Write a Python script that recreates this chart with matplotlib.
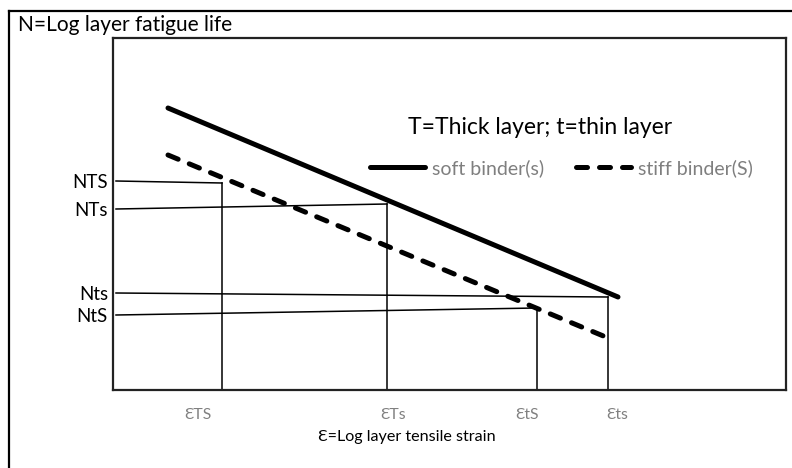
import matplotlib.pyplot as plt
from matplotlib.lines import Line2D

plt.rcParams['font.family'] = ['Lato', 'DejaVu Sans']

# schematic values (arbitrary log units)
binders = ['soft binder(s)', 'stiff binder(S)']
line_x = [[55, 505], [55, 500]]          # strain range of each fatigue line
line_n = [[282, 93], [235, 50]]          # log N at the two ends

cases = ['TS', 'Ts', 'ts', 'tS']
strain = [109, 274, 495, 424]            # log strain of each case
n_axis = [209, 181, 97, 75]              # N where the reading line meets the y axis
n_point = [207, 186, 93, 82]             # N at the fatigue line
n_labels = ['NTS', 'NTs', 'Nts', 'NtS']
eps_labels = ['ƐTS', 'ƐTs', 'Ɛts', 'ƐtS']
eps_label_x = [85, 280, 504, 414]

fig = plt.figure(figsize=(7.92, 4.68), dpi=100)

# outer frame and title
fig.add_artist(Line2D([9/792, 9/792], [0, 1 - 11/468], color='black', lw=1.6))
fig.add_artist(Line2D([9/792, 1], [1 - 11/468, 1 - 11/468], color='black', lw=1.6))
fig.text(18/792, 1 - 25/468, 'N=Log layer fatigue life', fontsize=15, va='center')

ax = fig.add_axes([113/792, 78/468, 673/792, 352/468])
ax.set_xlim(0, 673)
ax.set_ylim(0, 352)
ax.set_xticks([])
ax.set_yticks([])
for sp in ax.spines.values():
    sp.set_linewidth(1.6)
    sp.set_color('#222222')

# fatigue lines
ax.plot(line_x[0], line_n[0], color='black', lw=3.6, solid_capstyle='round', label=binders[0])
ax.plot(line_x[1], line_n[1], color='black', lw=3.6, dashes=(2.2, 2.4),
        dash_capstyle='round', label=binders[1])

# reading lines
for i in range(len(cases)):
    ax.plot([3, strain[i]], [n_axis[i], n_point[i]], color='black', lw=1.1)
    ax.plot([strain[i], strain[i]], [n_point[i], 0], color='black', lw=1.1)
    ax.text(-5, n_axis[i] - 1, n_labels[i], ha='right', va='center', fontsize=13.5)
    ax.text(eps_label_x[i], -25, eps_labels[i], ha='center', va='center',
            fontsize=11.3, color='#808080')

ax.text(294, -47, 'Ɛ=Log layer tensile strain', ha='center', va='center', fontsize=11.6)
ax.text(427, 263, 'T=Thick layer; t=thin layer', ha='center', va='center', fontsize=16.5)

ax.legend(loc='center left', bbox_to_anchor=(257/673, 222/352), ncol=2, frameon=False,
          borderpad=0, borderaxespad=0, handlelength=2.83, handletextpad=0.36,
          columnspacing=1.65, fontsize=14, labelcolor='#7f7f7f')

fig.savefig('out.png', dpi=100)
